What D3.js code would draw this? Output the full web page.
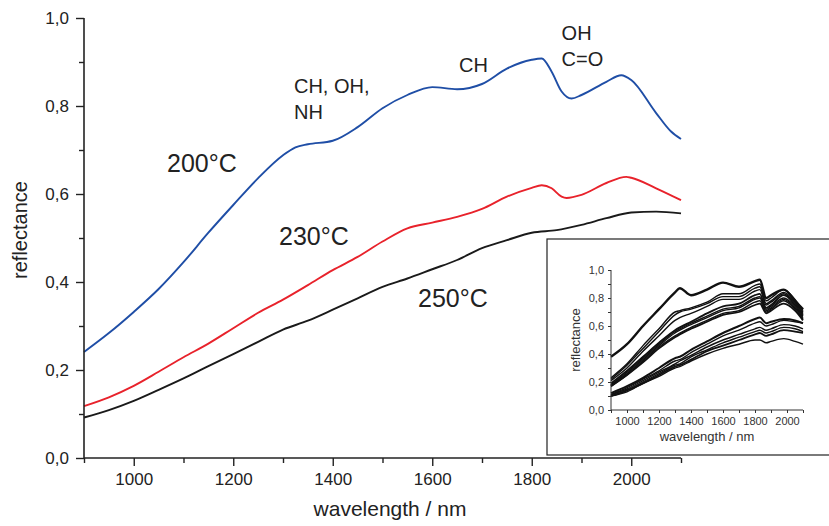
<!DOCTYPE html>
<html>
<head>
<meta charset="utf-8">
<script src="https://cdn.jsdelivr.net/npm/d3@7"></script>
<style>
  html, body { margin: 0; padding: 0; background: #fff; }
  svg { display: block; font-family: "Liberation Sans", Arial, sans-serif; }
</style>
</head>
<body>
<div id="chart"></div>
<script>
// NIR reflectance spectra of heat-treated samples, with inset of all spectra

// main spectra (wavelength nm -> reflectance)
const wl200 = [900, 950, 1000, 1050, 1100, 1150, 1200, 1250, 1300, 1325, 1350, 1400, 1450, 1500, 1550, 1600, 1650, 1700, 1750, 1800, 1820, 1840, 1860, 1880, 1900, 1950, 1980, 2000, 2050, 2080, 2100];
const r200 = [0.241, 0.284, 0.332, 0.384, 0.445, 0.512, 0.575, 0.636, 0.688, 0.706, 0.713, 0.721, 0.752, 0.795, 0.825, 0.843, 0.838, 0.850, 0.885, 0.905, 0.908, 0.878, 0.833, 0.817, 0.825, 0.855, 0.870, 0.859, 0.784, 0.742, 0.725];

const wl230 = [900, 950, 1000, 1050, 1100, 1150, 1200, 1250, 1300, 1350, 1400, 1450, 1500, 1550, 1600, 1650, 1700, 1750, 1800, 1820, 1840, 1860, 1870, 1900, 1950, 1990, 2000, 2050, 2100];
const r230 = [0.118, 0.138, 0.164, 0.196, 0.229, 0.260, 0.295, 0.330, 0.360, 0.393, 0.427, 0.457, 0.492, 0.522, 0.535, 0.548, 0.566, 0.594, 0.614, 0.620, 0.613, 0.594, 0.591, 0.598, 0.625, 0.639, 0.637, 0.613, 0.586];

const wl250 = [900, 950, 1000, 1050, 1100, 1150, 1200, 1250, 1300, 1350, 1400, 1450, 1500, 1550, 1600, 1650, 1700, 1750, 1800, 1850, 1900, 1950, 2000, 2050, 2100];
const r250 = [0.092, 0.109, 0.130, 0.155, 0.181, 0.209, 0.236, 0.264, 0.292, 0.312, 0.337, 0.363, 0.389, 0.408, 0.429, 0.450, 0.477, 0.495, 0.512, 0.518, 0.530, 0.545, 0.558, 0.560, 0.556];

const seriesLabels = ['200°C', '230°C', '250°C'];
const seriesColors = ['#1f4ea6', '#e8222b', '#1a1a1a'];

const xTicks = [1000, 1200, 1400, 1600, 1800, 2000];
const yTicks = [0, 0.2, 0.4, 0.6, 0.8, 1.0];

const bandLabels = [
    { lines: ['CH, OH,', 'NH'], wl: 1322, r: 0.83 },
    { lines: ['CH'], wl: 1654, r: 0.878 },
    { lines: ['OH', 'C=O'], wl: 1860, r: 0.949 }
];

// inset: all spectra
const insetWl = [900, 1000, 1100, 1200, 1300, 1330, 1400, 1500, 1600, 1700, 1800, 1830, 1870, 1900, 1980, 2050, 2100];
const insetSpectra = [
    [0.38, 0.47, 0.60, 0.72, 0.84, 0.87, 0.82, 0.86, 0.91, 0.88, 0.92, 0.93, 0.80, 0.82, 0.86, 0.78, 0.72],
    [0.23, 0.33, 0.46, 0.58, 0.70, 0.71, 0.73, 0.77, 0.83, 0.83, 0.89, 0.90, 0.78, 0.80, 0.86, 0.79, 0.71],
    [0.22, 0.32, 0.44, 0.56, 0.68, 0.70, 0.72, 0.76, 0.81, 0.81, 0.87, 0.88, 0.76, 0.78, 0.84, 0.77, 0.70],
    [0.21, 0.30, 0.42, 0.53, 0.64, 0.66, 0.69, 0.74, 0.79, 0.79, 0.85, 0.86, 0.75, 0.77, 0.83, 0.76, 0.69],
    [0.19, 0.28, 0.38, 0.48, 0.57, 0.59, 0.63, 0.69, 0.74, 0.76, 0.82, 0.83, 0.73, 0.75, 0.82, 0.75, 0.68],
    [0.18, 0.27, 0.37, 0.47, 0.56, 0.58, 0.62, 0.67, 0.72, 0.74, 0.80, 0.81, 0.72, 0.74, 0.80, 0.74, 0.67],
    [0.18, 0.26, 0.36, 0.46, 0.55, 0.57, 0.61, 0.66, 0.71, 0.73, 0.79, 0.80, 0.71, 0.73, 0.79, 0.73, 0.66],
    [0.17, 0.25, 0.35, 0.45, 0.53, 0.55, 0.59, 0.64, 0.69, 0.71, 0.77, 0.78, 0.70, 0.72, 0.78, 0.72, 0.65],
    [0.17, 0.25, 0.34, 0.44, 0.52, 0.54, 0.58, 0.63, 0.68, 0.70, 0.75, 0.76, 0.69, 0.71, 0.76, 0.71, 0.64],
    [0.12, 0.17, 0.23, 0.30, 0.37, 0.38, 0.43, 0.49, 0.55, 0.60, 0.65, 0.66, 0.62, 0.63, 0.65, 0.64, 0.62],
    [0.11, 0.16, 0.22, 0.28, 0.35, 0.36, 0.41, 0.47, 0.53, 0.57, 0.62, 0.63, 0.60, 0.61, 0.64, 0.63, 0.62],
    [0.11, 0.15, 0.21, 0.27, 0.33, 0.35, 0.39, 0.45, 0.50, 0.54, 0.58, 0.59, 0.57, 0.58, 0.61, 0.60, 0.58],
    [0.10, 0.14, 0.20, 0.26, 0.32, 0.33, 0.38, 0.43, 0.48, 0.52, 0.56, 0.57, 0.55, 0.56, 0.59, 0.58, 0.56],
    [0.10, 0.14, 0.19, 0.25, 0.31, 0.32, 0.36, 0.42, 0.46, 0.50, 0.54, 0.55, 0.53, 0.54, 0.57, 0.56, 0.55],
    [0.10, 0.13, 0.19, 0.24, 0.30, 0.31, 0.35, 0.40, 0.44, 0.47, 0.50, 0.50, 0.48, 0.49, 0.51, 0.49, 0.47]
];
const insetWidths = [2.4, 1.4, 1.4, 1.4, 1.8, 1.4, 1.4, 1.4, 1.8, 2, 1.4, 1.4, 1.4, 1.8, 1.4];

const W = 829, H = 526;
const fmt = d => d3.format('.1f')(d).replace('.', ',');

const svg = d3.select('#chart').append('svg')
    .attr('width', W).attr('height', H);

const x = d3.scaleLinear().domain([900, 2100]).range([84, 681]);
const y = d3.scaleLinear().domain([0, 1]).range([458, 18]);

// Main curves
const mainData = [[wl200, r200], [wl230, r230], [wl250, r250]];
const line = d3.line().x(d => x(d[0])).y(d => y(d[1])).curve(d3.curveMonotoneX);
mainData.forEach(([wl, r], i) => {
    svg.append('path')
        .datum(wl.map((w, k) => [w, r[k]]))
        .attr('fill', 'none')
        .attr('stroke', seriesColors[i])
        .attr('stroke-width', 1.9)
        .attr('d', line);
});

// Axes
const axisColor = '#222';
const xAxis = svg.append('g').attr('transform', 'translate(0,458)')
    .call(d3.axisBottom(x).tickValues(xTicks).tickSize(8).tickPadding(7).tickFormat(d3.format('d')));
svg.append('g').attr('transform', 'translate(0,458)')
    .call(d3.axisBottom(x).tickValues(d3.range(900, 2101, 100).filter(v => !xTicks.includes(v))).tickSize(5).tickFormat(''))
    .select('.domain').remove();
const yAxis = svg.append('g').attr('transform', 'translate(84,0)')
    .call(d3.axisLeft(y).tickValues(yTicks).tickSize(8).tickPadding(7).tickFormat(fmt));
svg.append('g').attr('transform', 'translate(84,0)')
    .call(d3.axisLeft(y).tickValues([0.1, 0.3, 0.5, 0.7, 0.9]).tickSize(5).tickFormat(''))
    .select('.domain').remove();

svg.selectAll('.domain').attr('stroke', axisColor).attr('stroke-width', 1.6);
svg.selectAll('.tick line').attr('stroke', axisColor).attr('stroke-width', 1.4);
svg.selectAll('.tick text').attr('fill', '#222').attr('font-size', '17px')
    .attr('font-family', '"Liberation Sans", Arial, sans-serif');
xAxis.select('.domain').attr('d', 'M84,0H681');
yAxis.select('.domain').attr('d', 'M0,18V458');

svg.append('text')
    .attr('x', 390).attr('y', 516)
    .attr('text-anchor', 'middle')
    .attr('font-size', '21px').attr('fill', '#222')
    .text('wavelength / nm');
svg.append('text')
    .attr('transform', 'translate(27,230) rotate(-90)')
    .attr('text-anchor', 'middle')
    .attr('font-size', '20px').attr('fill', '#222')
    .text('reflectance');

// Series labels
const labelPos = [[167, 172], [279, 245], [418, 307]];
seriesLabels.forEach((t, i) => {
    svg.append('text')
        .attr('x', labelPos[i][0]).attr('y', labelPos[i][1])
        .attr('font-size', '25px').attr('fill', '#222')
        .text(t);
});

// Band annotations
bandLabels.forEach(b => {
    const t = svg.append('text')
        .attr('x', x(b.wl)).attr('y', y(b.r))
        .attr('font-size', '20px').attr('fill', '#222');
    b.lines.forEach((l, k) => {
        t.append('tspan').attr('x', x(b.wl)).attr('dy', k === 0 ? 0 : 26).text(l);
    });
});

// Inset
const inset = svg.append('g');
inset.append('rect')
    .attr('x', 547).attr('y', 239).attr('width', 300).attr('height', 216)
    .attr('fill', '#fff').attr('stroke', '#222').attr('stroke-width', 1.2);

const ix = d3.scaleLinear().domain([900, 2100]).range([611, 803]);
const iy = d3.scaleLinear().domain([0, 1]).range([410, 270]);
const iline = d3.line().x(d => ix(d[0])).y(d => iy(d[1])).curve(d3.curveMonotoneX);

insetSpectra.forEach((s, i) => {
    inset.append('path')
        .datum(insetWl.map((w, k) => [w, s[k]]))
        .attr('fill', 'none')
        .attr('stroke', '#111')
        .attr('stroke-width', insetWidths[i])
        .attr('d', iline);
});

const ixAxis = inset.append('g').attr('transform', 'translate(0,410)')
    .call(d3.axisBottom(ix).tickValues(d3.range(900, 2101, 100)).tickSize(3).tickPadding(4)
        .tickFormat(d => xTicks.includes(d) ? d : ''));
const iyAxis = inset.append('g').attr('transform', 'translate(611,0)')
    .call(d3.axisLeft(iy).tickValues(d3.range(0, 1.01, 0.1)).tickSize(3).tickPadding(4)
        .tickFormat(d => (Math.round(d * 10) % 2 === 0) ? fmt(d) : ''));
inset.selectAll('.domain').attr('stroke', '#333').attr('stroke-width', 1);
inset.selectAll('.tick line').attr('stroke', '#333').attr('stroke-width', 1);
inset.selectAll('.tick text').attr('fill', '#333').attr('font-size', '11px')
    .attr('font-family', '"Liberation Sans", Arial, sans-serif');
ixAxis.select('.domain').attr('d', 'M611,0H803');
iyAxis.select('.domain').attr('d', 'M0,270V410');

inset.append('text')
    .attr('x', 707).attr('y', 441)
    .attr('text-anchor', 'middle')
    .attr('font-size', '13px').attr('fill', '#333')
    .text('wavelength / nm');
inset.append('text')
    .attr('transform', 'translate(580,340) rotate(-90)')
    .attr('text-anchor', 'middle')
    .attr('font-size', '13px').attr('fill', '#333')
    .text('reflectance');
</script>
</body>
</html>
